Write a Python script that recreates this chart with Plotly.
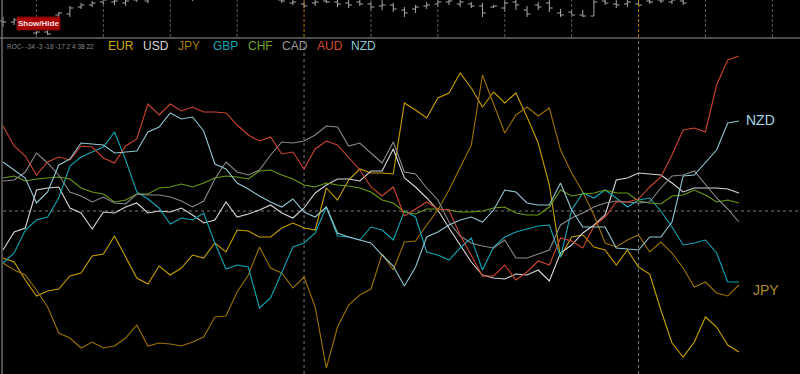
import plotly.graph_objects as go

W, H = 800, 374

currencies = ["EUR", "USD", "JPY", "GBP", "CHF", "CAD", "AUD", "NZD"]
colors = {"EUR": "#c8a000", "USD": "#d6d6d6", "JPY": "#9c7200", "GBP": "#12a6b6",
          "CHF": "#6c9c12", "CAD": "#8a8a8a", "AUD": "#cc4630", "NZD": "#92c6d2"}
label_colors = {"EUR": "#d0a800", "USD": "#d8d8d8", "JPY": "#a87c10", "GBP": "#12a6b6",
                "CHF": "#76a424", "CAD": "#9a9a9a", "AUD": "#d44a34", "NZD": "#8ccad8"}
roc_text = "ROC- -34 -3 -18 -17 2 4 38 22"

EUR = [-47,-51,-69,-85,-80,-78,-65,-62,-45,-43,-25,-46,-67,-73,-55,-64,-57,-44,-47,-32,-41,-19,-20,-26,-26,-17,-12,-17,-19,23,11,31,42,38,38,37,108,101,93,113,118,138,123,104,119,108,118,94,68,26,-46,-26,-24,-36,-39,-54,-39,-56,-63,-99,-132,-146,-131,-106,-116,-134,-141]
USD = [-39,-21,-17,21,23,24,3,-2,-18,-1,-2,4,8,-2,0,-1,3,-4,-12,-9,9,-6,-3,1,6,-2,-7,3,18,26,32,32,30,40,40,62,33,24,13,1,-17,-34,-51,-64,-67,-68,-63,-64,-59,-70,-42,-34,-22,-14,-4,31,33,38,37,36,28,19,23,23,23,22,18]
JPY = [-52,-59,-64,-79,-96,-122,-127,-137,-131,-137,-135,-127,-114,-135,-132,-133,-135,-131,-126,-106,-105,-81,-64,-36,-57,-62,-77,-66,-96,-157,-116,-94,-84,-78,-43,-59,-31,-30,-14,1,21,43,66,136,107,78,96,104,95,103,61,38,19,-4,-32,-36,-29,-24,-41,-31,-42,-57,-76,-71,-82,-85,-74]
GBP = [-52,-42,-19,-9,-6,13,45,54,59,64,79,51,19,12,3,-13,-7,-9,-2,-32,-58,-54,-56,-97,-87,-61,-36,-32,-22,4,-25,-26,-29,-16,-19,-29,0,-6,-41,-44,-49,-37,-27,-59,-36,-26,-21,-18,-15,-14,-46,1,18,13,21,13,4,11,13,0,-16,-34,-32,-29,-42,-71,-71]
CHF = [33,35,30,32,33,34,32,23,19,17,9,11,17,17,23,24,27,24,28,33,35,34,32,40,41,36,32,26,24,28,26,25,23,19,11,8,-1,-3,2,2,1,-1,-1,0,3,4,-2,-4,-4,4,21,15,17,18,21,18,18,10,8,7,15,16,21,16,9,11,8]
CAD = [30,31,39,58,48,36,19,15,9,14,8,7,17,16,16,14,10,4,10,32,49,39,36,41,56,69,68,70,76,85,84,65,68,58,48,69,39,37,23,11,-11,-25,-32,-35,-37,-29,-47,-47,-43,-39,-14,-7,-2,4,8,10,9,8,9,23,35,36,40,27,13,2,-11]
AUD = [85,65,55,36,49,54,51,65,64,53,48,65,72,107,96,107,100,104,99,99,98,86,76,70,74,57,59,42,62,70,66,54,41,24,15,24,-5,2,9,2,1,-24,-44,-65,-65,-54,-69,-61,-50,-54,-27,-30,-37,-15,-6,9,9,12,24,34,56,81,83,79,126,151,155]
NZD = [49,41,33,8,19,46,52,68,67,66,58,59,60,79,84,98,92,94,80,47,42,28,22,15,9,4,12,-1,-6,4,-22,-26,-29,-32,-44,-55,-75,-56,-26,-21,-14,-9,-6,-11,1,21,19,8,6,6,28,1,-16,-16,-16,-37,-38,-39,-26,-26,-11,35,36,48,61,88,90]
series = {"EUR": EUR, "USD": USD, "JPY": JPY, "GBP": GBP, "CHF": CHF, "CAD": CAD, "AUD": AUD, "NZD": NZD}

# price bars (top panel)
price_open = [129,128,125,117,118,135,136,143,145,148,148,147,150,149,155,158,156,152,158,160,160,158,156,155,154,150,147,146,147,149,148,147,148,146,144,145,140,141,144,146,148,146,146,144,143,142,148,140,145,147,137,138,135,134,149,146,146,146,149,150,148,149]
price_high = [133,132,130,120,120,138,144,147,149,154,153,154,156,155,160,162,160,156,162,165,166,164,162,160,158,155,152,148,153,154,153,152,153,148,150,147,143,145,148,152,153,152,148,147,145,151,152,144,148,151,141,140,140,150,153,152,153,152,153,155,153,152]
price_low = [123,125,122,115,115,133,133,141,143,145,145,144,148,147,152,153,152,149,154,155,156,154,153,152,151,147,145,142,144,147,143,142,144,140,140,138,133,137,141,143,145,143,142,133,142,138,140,133,140,138,133,133,133,134,145,142,143,143,146,147,146,145]
price_close = [128,130,127,118,116,137,142,145,147,150,149,149,152,151,156,156,154,151,156,158,162,159,157,154,153,149,148,144,148,148,146,145,146,143,145,141,137,143,145,148,149,148,144,137,144,147,145,136,143,142,135,135,134,148,147,145,148,145,148,149,150,147]

n = len(EUR)
idx = list(range(n))
bar_idx = list(range(len(price_open)))

fig = go.Figure()

fig.add_trace(go.Ohlc(x=bar_idx, open=price_open, high=price_high, low=price_low, close=price_close,
                      xaxis="x", yaxis="y2", tickwidth=0.3,
                      increasing=dict(line=dict(color="#a8a8a8", width=1)),
                      decreasing=dict(line=dict(color="#a8a8a8", width=1)),
                      hoverinfo="skip"))

for c in ["EUR", "USD", "JPY", "GBP", "CHF", "CAD", "AUD", "NZD"]:
    fig.add_trace(go.Scatter(x=idx, y=series[c], mode="lines", name=c,
                             line=dict(color=colors[c], width=1.1), hoverinfo="skip"))

x0 = -3 / 11.15
x1 = 797 / 11.15
top_dom = 1 - 37 / H
ind_top = (H - 39) / H

shapes = []
# top panel vertical grid
for k in range(3, 70, 6):
    col = "#b07800" if k in (27, 57) else "#5a5a5a"
    shapes.append(dict(type="line", xref="x", yref="paper", x0=k, x1=k, y0=top_dom, y1=1,
                       line=dict(color=col, width=1, dash="3px,2px")))
# indicator vertical separators
for k in (27, 57):
    shapes.append(dict(type="line", xref="x", yref="paper", x0=k, x1=k, y0=0, y1=ind_top,
                       line=dict(color="#7a7a7a", width=1, dash="3px,3px"), layer="below"))
# zero line
shapes.append(dict(type="line", xref="paper", yref="y", x0=3 / W, x1=1, y0=0, y1=0,
                   line=dict(color="#7a7a7a", width=1, dash="3px,3px"), layer="below"))
# separator
shapes.append(dict(type="line", xref="paper", yref="paper", x0=0, x1=1, y0=1 - 38 / H, y1=1 - 38 / H,
                   line=dict(color="#4c4c4c", width=2)))
# left border
shapes.append(dict(type="line", xref="paper", yref="paper", x0=2 / W, x1=2 / W, y0=0, y1=1,
                   line=dict(color="#6a6a6a", width=1.5)))
# Show/Hide button
shapes.append(dict(type="rect", xref="paper", yref="paper", x0=17 / W, x1=60 / W,
                   y0=1 - 30 / H, y1=1 - 17 / H, fillcolor="#a80000",
                   line=dict(color="#700000", width=1)))

annotations = [
    dict(text="<b>Show/Hide</b>", xref="paper", yref="paper", x=38.5 / W, y=1 - 23.5 / H,
         xanchor="center", yanchor="middle", showarrow=False,
         font=dict(family="Liberation Sans Narrow, Liberation Sans, Arial", size=8, color="#f0e0e0")),
    dict(text=roc_text, xref="paper", yref="paper", x=5 / W, y=1 - 46 / H,
         xanchor="left", yanchor="middle", showarrow=False,
         font=dict(family="Liberation Sans, Arial", size=6.5, color="#8a8a8a")),
]
label_x = {"EUR": 106, "USD": 141, "JPY": 176, "GBP": 211, "CHF": 246, "CAD": 280, "AUD": 315, "NZD": 349}
for c in currencies:
    annotations.append(dict(text=c, xref="paper", yref="paper", x=label_x[c] / W, y=1 - 46 / H,
                            xanchor="left", yanchor="middle", showarrow=False,
                            font=dict(family="Liberation Sans, Arial", size=12, color=label_colors[c])))
annotations.append(dict(text="NZD", xref="paper", yref="paper", x=744 / W, y=1 - 120 / H,
                        xanchor="left", yanchor="middle", showarrow=False,
                        font=dict(family="Liberation Sans, Arial", size=14, color="#a4d8e6")))
annotations.append(dict(text="JPY", xref="paper", yref="paper", x=751 / W, y=1 - 290 / H,
                        xanchor="left", yanchor="middle", showarrow=False,
                        font=dict(family="Liberation Sans, Arial", size=14, color="#b08a28")))

fig.update_layout(
    width=W, height=H, margin=dict(l=0, r=0, t=0, b=0),
    paper_bgcolor="#000000", plot_bgcolor="#000000", showlegend=False,
    xaxis=dict(range=[x0, x1], visible=False, rangeslider=dict(visible=False), anchor="y", fixedrange=True),
    yaxis=dict(domain=[0, ind_top], range=[-163, 172], visible=False, fixedrange=True),
    yaxis2=dict(domain=[top_dom, 1], range=[113, 150], visible=False, anchor="x", fixedrange=True),
    shapes=shapes, annotations=annotations,
)

fig.write_html("out.html")
